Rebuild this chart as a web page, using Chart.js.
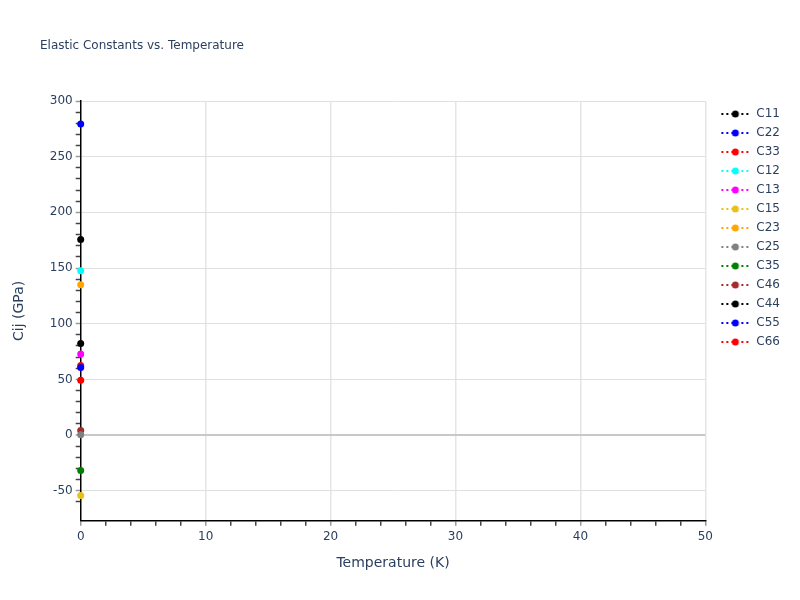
<!DOCTYPE html>
<html>
<head>
<meta charset="utf-8">
<script src="https://cdn.jsdelivr.net/npm/chart.js@4"></script>
<style>
  html, body { margin: 0; padding: 0; background: #fff; }
  #wrap { width: 800px; height: 600px; }
</style>
</head>
<body>
<div id="wrap"><canvas id="chart-1"></canvas></div>
<script>
// series names, colours and the single value each one has at T = 0 K
const names = ['C11', 'C22', 'C33', 'C12', 'C13', 'C15', 'C23', 'C25', 'C35', 'C46', 'C44', 'C55', 'C66'];
const colors = ['black', 'blue', 'red', 'cyan', 'magenta', 'rgb(232,192,28)', 'orange', 'gray', 'green', 'brown', 'black', 'blue', 'red'];
const temps = [0];
const values = [175.7, 279.3, 49.3, 147.5, 72.7, -54.3, 134.9, 0.3, -31.8, 4, 82.3, 60.7, 62.5];

const textColor = '#2a3f5f';
const font = 'DejaVu Sans';

// legend swatch: dotted line with a dot in the middle (left part of the canvas left blank as a gap)
function swatch(color){
  const c = document.createElement('canvas');
  c.width = 38; c.height = 10;
  const g = c.getContext('2d');
  g.strokeStyle = color;
  g.lineWidth = 2;
  g.setLineDash([2, 3]);
  g.beginPath(); g.moveTo(9, 5); g.lineTo(37, 5); g.stroke();
  g.setLineDash([]);
  g.fillStyle = color;
  g.beginPath(); g.arc(23, 5, 3.5, 0, Math.PI * 2); g.fill();
  return c;
}

// title drawn top-left like the original
const titlePlugin = {
  id: 'leftTitle',
  afterDraw(chart){
    const ctx = chart.ctx;
    ctx.save();
    ctx.font = '12px "' + font + '"';
    ctx.fillStyle = textColor;
    ctx.textBaseline = 'middle';
    ctx.fillText('Elastic Constants vs. Temperature', 40, 46);
    ctx.restore();
  }
};

const datasets = names.map((n, i) => ({
  label: n,
  data: temps.map(t => ({x: t, y: values[i]})),
  borderColor: colors[i],
  backgroundColor: colors[i],
  borderDash: [2, 3],
  borderWidth: 2,
  pointRadius: 3.5,
  pointHoverRadius: 4,
  pointBorderWidth: 0,
  showLine: true,
  clip: false
}));

new Chart(document.querySelector('#chart-1'), {
  type: 'scatter',
  data: { datasets: datasets },
  plugins: [titlePlugin],
  options: {
    responsive: true,
    maintainAspectRatio: false,
    animation: false,
    layout: { padding: { left: 7, right: 10, top: 101, bottom: 24 } },
    plugins: {
      title: { display: false },
      legend: {
        position: 'right',
        align: 'start',
        fullSize: false,
        labels: {
          usePointStyle: true,
          pointStyleWidth: 38,
          color: textColor,
          font: { family: font, size: 12 },
          padding: 7,
          generateLabels: chart => chart.data.datasets.map((d, i) => ({
            text: d.label,
            pointStyle: swatch(d.borderColor),
            fillStyle: d.borderColor,
            strokeStyle: d.borderColor,
            lineWidth: 0,
            hidden: !chart.isDatasetVisible(i),
            datasetIndex: i,
            fontColor: textColor
          }))
        }
      },
      tooltip: { enabled: true }
    },
    scales: {
      x: {
        type: 'linear',
        min: 0,
        max: 50,
        border: { color: 'black', width: 1.5 },
        afterBuildTicks: s => { s.ticks = s.ticks.filter(t => t.value % 2 === 0); },
        ticks: {
          stepSize: 2,
          autoSkip: false,
          maxRotation: 0,
          color: textColor,
          font: { family: font, size: 12 },
          padding: 4,
          callback: v => v % 10 === 0 ? v : ''
        },
        grid: {
          color: ctx => (ctx.tick && ctx.tick.value % 10 === 0 && ctx.tick.value !== 0) ? '#e5e5e5' : 'rgba(0,0,0,0)',
          lineWidth: 1.5,
          tickColor: ctx => (ctx.tick && ctx.tick.value % 10 === 0) ? '#999' : '#444',
          tickLength: 5,
          tickWidth: 1.5
        },
        title: {
          display: true,
          text: 'Temperature (K)',
          color: textColor,
          font: { family: font, size: 14 },
          padding: { top: 7, bottom: 4 }
        }
      },
      y: {
        type: 'linear',
        min: -77,
        max: 300,
        border: { color: 'black', width: 1.5 },
        afterBuildTicks: s => { s.ticks = s.ticks.filter(t => t.value % 10 === 0); },
        ticks: {
          stepSize: 10,
          autoSkip: false,
          color: textColor,
          font: { family: font, size: 12 },
          padding: 3,
          callback: v => v % 50 === 0 ? v : ''
        },
        grid: {
          color: ctx => {
            if (!ctx.tick) return 'rgba(0,0,0,0)';
            if (ctx.tick.value === 0) return '#c8c8c8';
            return ctx.tick.value % 50 === 0 ? '#e0e0e0' : 'rgba(0,0,0,0)';
          },
          lineWidth: ctx => (ctx.tick && ctx.tick.value === 0) ? 2 : 1,
          tickColor: ctx => (ctx.tick && ctx.tick.value % 50 === 0) ? '#999' : '#444',
          tickLength: 5,
          tickWidth: 1.5
        },
        title: {
          display: true,
          text: 'Cij (GPa)',
          color: textColor,
          font: { family: font, size: 14 },
          padding: { top: 4, bottom: 19 }
        }
      }
    }
  }
});
</script>
</body>
</html>
